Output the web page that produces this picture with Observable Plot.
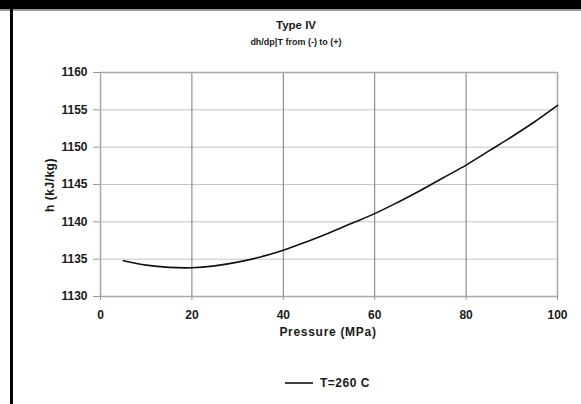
<!DOCTYPE html>
<html><head><meta charset="utf-8">
<script src="https://cdn.jsdelivr.net/npm/d3@7"></script>
<script src="https://cdn.jsdelivr.net/npm/@observablehq/plot@0.6"></script>
<style>
body{margin:0;background:#fff;}
#wrap{position:relative;width:581px;height:404px;overflow:hidden;font-family:"Liberation Sans",Arial,sans-serif;}
#topband{position:absolute;left:0;top:0;width:581px;height:9px;background:#000;border-bottom:2px solid #999;}
#leftline{position:absolute;left:10px;top:9px;width:3px;height:395px;background:#000;}
.t{position:absolute;font-weight:bold;color:#1a1a1a;white-space:nowrap;}
</style></head>
<body><div id="wrap"></div>
<script>
const pressure = [5, 10, 15, 20, 25, 30, 35, 40, 45, 50, 55, 60, 65, 70, 75, 80, 85, 90, 95, 100];
const enthalpy = [1134.8, 1134.2, 1133.9, 1133.85, 1134.1, 1134.6, 1135.3, 1136.2, 1137.3, 1138.5, 1139.8, 1141.1, 1142.6, 1144.2, 1145.9, 1147.6, 1149.5, 1151.4, 1153.4, 1155.6];
const xTicks = [0, 20, 40, 60, 80, 100];
const yTicks = [1130, 1135, 1140, 1145, 1150, 1155, 1160];
const title = "Type IV";
const subtitle = "dh/dp|T from (-) to (+)";
const xLabel = "Pressure (MPa)";
const yLabel = "h (kJ/kg)";
const seriesName = "T=260 C";

const data = pressure.map((p, i) => ({p, h: enthalpy[i]}));

const plot = Plot.plot({
  width: 581, height: 404,
  marginLeft: 100, marginRight: 24, marginTop: 72, marginBottom: 108,
  style: {fontFamily: '"Liberation Sans", Arial, sans-serif', fontSize: "12px", fontWeight: "bold", color: "#1a1a1a", background: "transparent"},
  x: {domain: [0, 100]},
  y: {domain: [1130, 1160]},
  marks: [
    Plot.ruleY(yTicks.slice(1, -1), {stroke: "#c4c4c4", strokeWidth: 1}),
    Plot.ruleX(xTicks.slice(1, -1), {stroke: "#7a7a7a", strokeWidth: 1}),
    Plot.frame({stroke: "#a8a8a8", strokeWidth: 1.5}),
    Plot.axisY({ticks: yTicks, tickFormat: d => String(d), tickSize: 7, tickPadding: 6, stroke: "#999", label: null, fontWeight: "bold", fill: "#1a1a1a", fontSize: 12}),
    Plot.axisX({ticks: xTicks, tickFormat: d => String(d), tickSize: 4, tickPadding: 10, stroke: "#999", label: null, fontWeight: "bold", fill: "#1a1a1a", fontSize: 12}),
    Plot.line(data, {x: "p", y: "h", stroke: "#111", strokeWidth: 1.6, curve: "catmull-rom"})
  ]
});
const wrap = document.getElementById("wrap");
plot.style.position = "absolute"; plot.style.left = "0"; plot.style.top = "0";
wrap.appendChild(plot);

function addText(txt, css) {
  const d = document.createElement("div");
  d.className = "t"; d.textContent = txt;
  Object.assign(d.style, css);
  wrap.appendChild(d);
  return d;
}
const band = document.createElement("div"); band.id = "topband"; wrap.appendChild(band);
const ll = document.createElement("div"); ll.id = "leftline"; wrap.appendChild(ll);

addText(title, {left: "296px", top: "19px", fontSize: "11.5px", transform: "translateX(-50%)"});
addText(subtitle, {left: "296px", top: "37px", fontSize: "9px", transform: "translateX(-50%)"});
addText(xLabel, {left: "328px", top: "325px", fontSize: "12px", letterSpacing: "0.7px", transform: "translateX(-50%)"});
addText(yLabel, {left: "50px", top: "185px", fontSize: "12px", letterSpacing: "0.5px", transform: "translate(-50%,-50%) rotate(-90deg)"});

const leg = document.createElement("div");
leg.className = "t";
Object.assign(leg.style, {left: "285px", top: "376px", fontSize: "12px", letterSpacing: "0.5px", display: "flex", alignItems: "center"});
leg.innerHTML = '<svg width="28" height="10" style="margin-right:7px"><line x1="0" y1="5" x2="28" y2="5" stroke="#111" stroke-width="1.6"/></svg>';
const ls = document.createElement("span"); ls.textContent = seriesName; leg.appendChild(ls);
wrap.appendChild(leg);
</script></body></html>
